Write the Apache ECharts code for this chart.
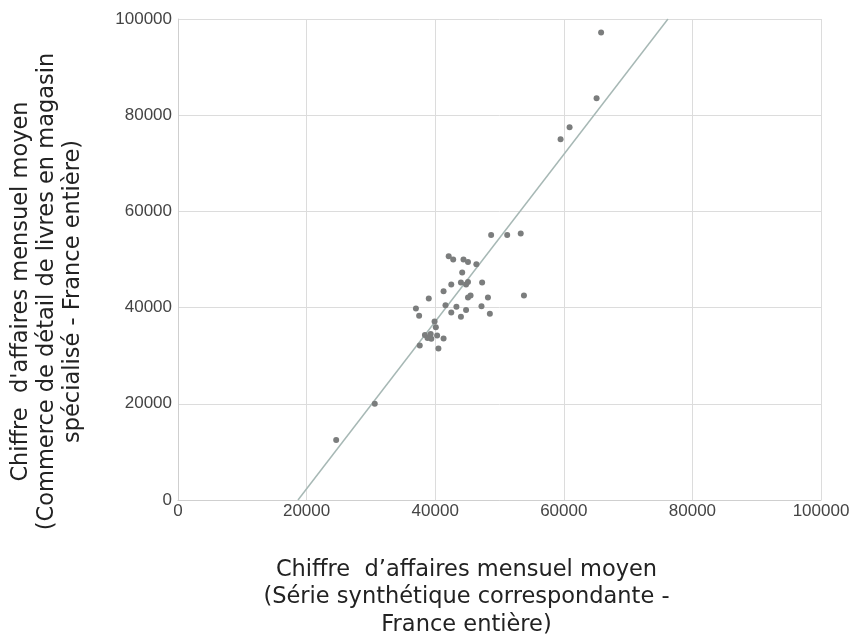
<!DOCTYPE html>
<html>
<head>
<meta charset="utf-8">
<script src="https://cdn.jsdelivr.net/npm/echarts@6/dist/echarts.min.js"></script>
<style>html,body{margin:0;padding:0;background:#fff}#c{width:851px;height:635px}</style>
</head>
<body>
<div id="c"></div>
<script>
var xTitle = "Chiffre  d\u2019affaires mensuel moyen\n(Série synthétique correspondante -\nFrance entière)";
var yTitle = "Chiffre  d'affaires mensuel moyen\n(Commerce de détail de livres en magasin\nspécialisé - France entière)";
var pointsX = [42100,42800,44400,45100,46400,44200,42500,44000,45100,44800,47300,41300,39000,45500,45100,48200,53800,37000,41600,43300,47200,37500,42500,44800,44000,48500,39900,40100,38400,39300,40300,39400,41300,38800,37600,40500,48700,51200,53300,30600,24600,65800,65100,60900,59500];
var pointsY = [50700,50000,50000,49500,49000,47300,44800,45200,45300,44800,45200,43400,41900,42500,42100,42100,42500,39800,40500,40200,40300,38300,39000,39500,38100,38700,37100,35900,34300,34500,34200,33500,33600,33700,32100,31500,55100,55100,55400,20000,12500,97200,83500,77500,75000];
var fitX = [18660, 76200];
var fitY = [0, 100000];

var scatterData = pointsX.map(function(x,i){return [x, pointsY[i]];});
var lineData = fitX.map(function(x,i){return [x, fitY[i]];});

var chart = echarts.init(document.getElementById('c'), null, {renderer:'canvas'});
var titleFamily = 'DejaVu Sans, sans-serif';
var labelFont = 'Liberation Sans, Arial, sans-serif';
function fmt(v){ return String(v); }
chart.setOption({
  animation:false,
  backgroundColor:'#fff',
  grid:{left:178, right:30, top:19, bottom:135, containLabel:false, outerBoundsMode:'none'},
  xAxis:{type:'value', min:0, max:100000, interval:20000,
    name:xTitle, nameLocation:'middle', nameGap:56,
    nameTextStyle:{fontFamily:titleFamily, fontSize:22.5, color:'#222', lineHeight:27.5, padding:[0,66,0,0]},
    axisLine:{show:true, lineStyle:{color:'#cfcfcf'}},
    axisTick:{show:false},
    axisLabel:{color:'#444', fontSize:17, fontFamily:labelFont, margin:3, formatter:fmt},
    splitLine:{show:true, lineStyle:{color:'#dcdcdc', width:1}}
  },
  yAxis:{type:'value', min:0, max:100000, interval:20000,
    name:yTitle, nameLocation:'middle', nameGap:92, nameRotate:90,
    nameTextStyle:{fontFamily:titleFamily, fontSize:22.5, color:'#222', lineHeight:26, padding:[0,64,0,0]},
    axisLine:{show:true, lineStyle:{color:'#cfcfcf'}},
    axisTick:{show:false},
    axisLabel:{color:'#444', fontSize:17, fontFamily:labelFont, margin:6, formatter:fmt},
    splitLine:{show:true, lineStyle:{color:'#dcdcdc', width:1}}
  },
  series:[
    {type:'line', data:lineData, showSymbol:false, symbol:'none',
     lineStyle:{color:'#a7b8b5', width:1.5}, z:2, silent:true},
    {type:'scatter', data:scatterData, symbolSize:6,
     itemStyle:{color:'#7b7d7d', opacity:1}, z:3}
  ]
});
</script>
</body>
</html>
